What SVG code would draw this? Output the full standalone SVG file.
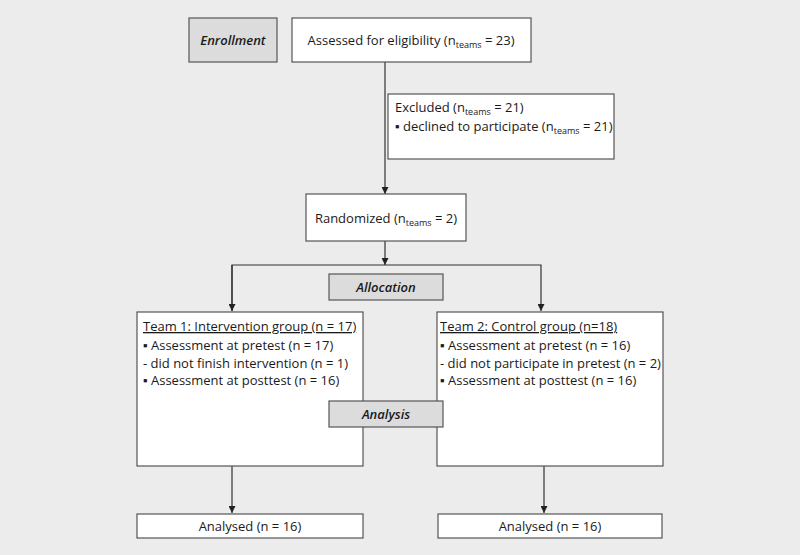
<svg xmlns="http://www.w3.org/2000/svg" width="800" height="555" viewBox="0 0 800 555">
<defs>
<style>
.box{fill:#fff;stroke:#555;stroke-width:1.2}
.gbox{fill:#dcdcdc;stroke:#555;stroke-width:1.2}
text{font-family:"Open Sans","Noto Sans",sans-serif;font-size:13px;fill:#1a1a1a}
.it{font-style:italic;font-weight:600}
.c{text-anchor:middle}
.sub{font-size:9px}
.ln{stroke:#333;stroke-width:1.2;fill:none}
</style>
<marker id="ah" viewBox="0 0 10 10" refX="10" refY="5" markerWidth="7" markerHeight="7" orient="auto" markerUnits="userSpaceOnUse">
<path d="M0,0 L10,5 L0,10 z" fill="#222"/>
</marker>
</defs>
<rect width="800" height="555" fill="#ececec"/>
<g id="connectors">
<line class="ln" x1="385" y1="62" x2="385" y2="194" marker-end="url(#ah)"/>
<line class="ln" x1="385" y1="241" x2="385" y2="265" marker-end="url(#ah)"/>
<polyline class="ln" points="232,311 232,265 541,265 541,311" marker-end="url(#ah)"/>
<line class="ln" x1="232" y1="265" x2="232" y2="311" marker-end="url(#ah)"/>
<line class="ln" x1="232" y1="466" x2="232" y2="513" marker-end="url(#ah)"/>
<line class="ln" x1="544" y1="466" x2="544" y2="513" marker-end="url(#ah)"/>
</g>
<g id="enrollment">
<rect class="gbox" x="189" y="18" width="88" height="44"/>
<text class="it c" x="233" y="45">Enrollment</text>
</g>
<g id="assessed">
<rect class="box" x="292" y="18" width="239" height="44"/>
<text class="c" x="411" y="45">Assessed for eligibility (n<tspan class="sub" dy="2.5">teams</tspan><tspan dy="-2.5"> = 23)</tspan></text>
</g>
<g id="excluded">
<rect class="box" x="388" y="94" width="226" height="65"/>
<text x="395" y="112">Excluded (n<tspan class="sub" dy="2.5">teams</tspan><tspan dy="-2.5"> = 21)</tspan></text>
<text x="395" y="131">▪ declined to participate (n<tspan class="sub" dy="2.5">teams</tspan><tspan dy="-2.5"> = 21)</tspan></text>
</g>
<g id="randomized">
<rect class="box" x="306" y="194" width="160" height="47"/>
<text class="c" x="386" y="223">Randomized (n<tspan class="sub" dy="2.5">teams</tspan><tspan dy="-2.5"> = 2)</tspan></text>
</g>
<g id="allocation">
<rect class="gbox" x="329" y="274" width="114" height="26"/>
<text class="it c" x="386" y="292">Allocation</text>
</g>
<g id="team1">
<rect class="box" x="137" y="312" width="226" height="154"/>
<text x="143" y="331" text-decoration="underline">Team 1: Intervention group (n = 17)</text>
<text x="143" y="350">▪ Assessment at pretest (n = 17)</text>
<text x="143" y="368">- did not finish intervention (n = 1)</text>
<text x="143" y="385">▪ Assessment at posttest (n = 16)</text>
</g>
<g id="team2">
<rect class="box" x="437" y="312" width="226" height="154"/>
<text x="440" y="331" text-decoration="underline">Team 2: Control group (n=18)</text>
<text x="440" y="350">▪ Assessment at pretest (n = 16)</text>
<text x="440" y="368">- did not participate in pretest (n = 2)</text>
<text x="440" y="385">▪ Assessment at posttest (n = 16)</text>
</g>
<g id="analysis">
<rect class="gbox" x="329" y="401" width="114" height="26"/>
<text class="it c" x="386" y="419">Analysis</text>
</g>
<g id="analysed1">
<rect class="box" x="137" y="514" width="226" height="24"/>
<text class="c" x="250" y="531">Analysed (n = 16)</text>
</g>
<g id="analysed2">
<rect class="box" x="438" y="514" width="224" height="24"/>
<text class="c" x="550" y="531">Analysed (n = 16)</text>
</g>
</svg>
